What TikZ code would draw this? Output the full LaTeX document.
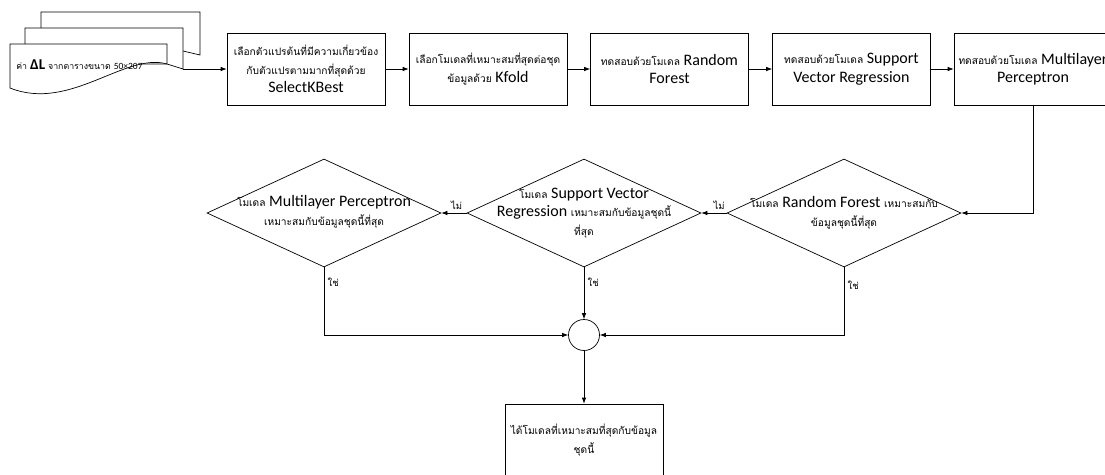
\documentclass[tikz,border=0pt]{standalone}
\usepackage{fontspec}
\setmainfont{Carlito}
\newfontfamily\thaifont[Script=Thai]{Loma}
\usetikzlibrary{arrows.meta,shapes.geometric}
\newcommand{\tha}[1]{{\thaifont\fontsize{10.2}{18}\selectfont #1}}

\begin{document}
\begin{tikzpicture}[x=1pt,y=-1pt,->,>={Latex[length=6pt,width=4.5pt]},line width=0.7pt,
    box/.style={rectangle,draw,fill=white,minimum width=158pt,minimum height=72pt,align=center,font=\fontsize{16}{18.5}\selectfont},
    choice/.style={diamond,draw,minimum width=234pt,minimum height=108pt,inner sep=0pt},
    choice text/.style={align=center,font=\fontsize{16}{18.5}\selectfont}]

\useasboundingbox (0,0) rectangle (1105,474);

% stack of data sheets
\draw[-,fill=white] (41,12) -- (200,12) -- (200,55) -- (183,51) -- (41,51) -- cycle;
\draw[-,fill=white] (25,28) -- (183,28) -- (183,69) -- (167,64) -- (25,64) -- cycle;
\draw[-,fill=white] (10,44) -- (167,44) -- (167,64) .. controls (125,52) and (70,112) .. (10,88) -- cycle;
\node[inner sep=0pt,anchor=west,font=\thaifont\fontsize{8.8}{18}\selectfont] (data) at (16,65) {ค่า {\fontspec{Carlito}\fontsize{15}{18}\selectfont\bfseries ΔL} จากตารางขนาด {\fontspec{Carlito}\fontsize{9.5}{18}\selectfont 50×207}};
\coordinate (dataout) at (183,69);

% top row
\node[box] (kbest) at (306,69) {\tha{เลือกตัวแปรต้นที่มีความเกี่ยวข้อง}\\\tha{กับตัวแปรตามมากที่สุดด้วย}\\SelectKBest};
\node[box] (kfold) at (488,69) {\tha{เลือกโมเดลที่เหมาะสมที่สุดต่อชุด}\\\tha{ข้อมูลด้วย} Kfold};
\node[box] (rf) at (669.5,69) {\tha{ทดสอบด้วยโมเดล} Random\\Forest};
\node[box] (svr) at (851.5,69) {\tha{ทดสอบด้วยโมเดล} Support\\Vector Regression};
\node[box] (mlp) at (1033,69) {\tha{ทดสอบด้วยโมเดล} Multilayer\\Perceptron};

\draw (dataout) -- (kbest);
\draw (kbest) -- (kfold);
\draw (kfold) -- (rf);
\draw (rf) -- (svr);
\draw (svr) -- (mlp);

% decisions
\node[choice] (isrf) at (844,213) {};
\node[choice] (issvr) at (584,213) {};
\node[choice] (ismlp) at (324,213) {};
\node[choice text] at (844,213) {\tha{โมเดล} Random Forest \tha{เหมาะสมกับ}\\\tha{ข้อมูลชุดนี้ที่สุด}};
\node[choice text] at (584,213) {\tha{โมเดล} Support Vector\\Regression \tha{เหมาะสมกับข้อมูลชุดนี้}\\\tha{ที่สุด}};
\node[choice text] at (324,212) {\tha{โมเดล} Multilayer Perceptron\\\tha{เหมาะสมกับข้อมูลชุดนี้ที่สุด}};

\node[circle,draw,minimum size=31pt,inner sep=0pt] (join) at (584,335) {};
\node[box] (best) at (584,440) {\tha{ได้โมเดลที่เหมาะสมที่สุดกับข้อมูล}\\\tha{ชุดนี้}};

\draw (mlp) |- (isrf);

\path[every node/.style={font=\thaifont\fontsize{9.5}{12}\selectfont}]
(isrf) edge node[above,pos=0.3] {ไม่} (issvr)
(issvr) edge node[above,pos=0.4] {ไม่} (ismlp)
(ismlp) edge [to path={|- (\tikztotarget) \tikztonodes}] node[right,pos=0.11] {ใช่} (join)
(issvr) edge node[right,pos=0.29] {ใช่} (join)
(isrf) edge [to path={|- (\tikztotarget) \tikztonodes}] node[right,pos=0.13] {ใช่} (join);

\draw (join) -- (best);

\end{tikzpicture}
\end{document}
